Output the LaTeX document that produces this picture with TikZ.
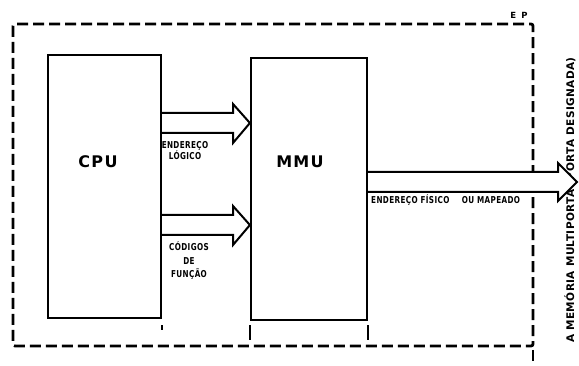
\documentclass[tikz,border=0pt]{standalone}
\usepackage{fontspec}
\setmainfont{DejaVu Sans}
\usetikzlibrary{calc}
\begin{document}
\begin{tikzpicture}[x=1pt,y=-1pt,
  unitbox/.style={draw,line width=2.2pt,minimum width=#1,inner sep=0pt},
  bigtxt/.style={font=\fontsize{16}{18}\selectfont\bfseries\addfontfeature{LetterSpace=8}},
  smalltxt/.style={font=\fontsize{9.5}{#1}\selectfont\bfseries\addfontfeature{FakeStretch=0.76,LetterSpace=4},align=center,inner sep=0pt},
  blockarrow/.style={draw,line width=2pt,fill=white,line join=miter},
  frame/.style={line width=2.8pt,dash pattern=on 11pt off 5pt,rounded corners=2pt},
  tick/.style={line width=1.4pt}]
\useasboundingbox (0,0) rectangle (579,366);
% frame
\draw[frame] (13,24) rectangle (533,346);
\draw[frame] (533,350) -- (533,366);
\node[font=\fontsize{8.5}{10}\selectfont\bfseries\addfontfeature{LetterSpace=25}] (ep) at (519,15) {E P};
% boxes
\node[unitbox=113pt,minimum height=263pt] (cpu) at (104.5,186.5) {};
\node[bigtxt] (cputxt) at (98,162) {CPU};
\node[unitbox=116pt,minimum height=262pt] (mmu) at (309,189) {};
\node[bigtxt] (mmutxt) at (300,162) {MMU};
% ticks
\draw[tick] (cpu.south east) ++(0,6) coordinate (t1) -- ++(0,5);
\draw[tick] (mmu.south west) ++(0,4) coordinate (t2) -- ++(0,15);
\draw[tick] (mmu.south east) ++(0,4) coordinate (t3) -- ++(0,15);
% vertical text
\node[rotate=90,font=\fontsize{10.5}{12}\selectfont\bfseries\addfontfeature{LetterSpace=4},inner sep=0pt] (dest) at (570,200) {A MEMÓRIA MULTIPORTA (PORTA DESIGNADA)};
% arrows
\draw[blockarrow] (cpu.east |- 0,113) -- (233,113) -- (233,104) -- (mmu.west |- 0,123) -- (233,143) -- (233,133) -- (cpu.east |- 0,133);
\draw[blockarrow] (cpu.east |- 0,215) -- (233,215) -- (233,206) -- (mmu.west |- 0,225) -- (233,245) -- (233,235) -- (cpu.east |- 0,235);
\draw[blockarrow] (mmu.east |- 0,172) -- (558,172) -- (558,163) -- (577,182) coordinate (out) -- (558,201) -- (558,192) -- (mmu.east |- 0,192);
% labels
\node[smalltxt=11] (l1) at (185,151) {ENDEREÇO\\LÓGICO};
\node[smalltxt=13.5] (l2) at (189,261) {CÓDIGOS\\DE\\FUNÇÃO};
\node[smalltxt=8,anchor=west] (l3) at (371,200) {ENDEREÇO FÍSICO \quad OU MAPEADO};
\end{tikzpicture}
\end{document}
